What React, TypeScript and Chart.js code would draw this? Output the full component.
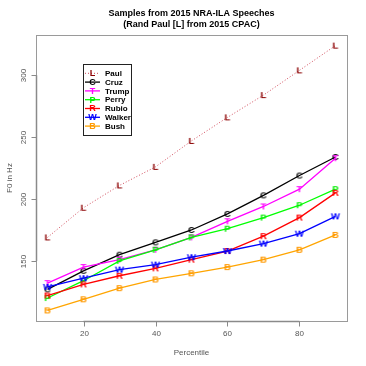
import React, { useEffect, useRef } from "react";
import { Chart, registerables } from "chart.js";

Chart.register(...registerables);

const percentiles = [10, 20, 30, 40, 50, 60, 70, 80, 90];
const paul = [169, 193, 211, 226, 247, 266, 284, 304, 324];
const cruz = [127, 142, 155, 165, 175, 188, 203, 219, 234];
const trump = [132, 145, 151, 159, 169, 182, 194, 208, 233];
const perry = [120, 134, 150, 159, 169, 176, 185, 195, 208];
const rubio = [122, 131, 138, 144, 151, 158, 170, 185, 205];
const walker = [129, 136, 143, 147, 153, 158, 164, 172, 186];
const bush = [110, 119, 128, 135, 140, 145, 151, 159, 171];

const seriesNames = ["Paul", "Cruz", "Trump", "Perry", "Rubio", "Walker", "Bush"];
const seriesLetters = ["L", "C", "T", "P", "R", "W", "B"];
const seriesValues = [paul, cruz, trump, perry, rubio, walker, bush];
const seriesColors = ["#8b0000", "#000000", "#ff00ff", "#00ee00", "#ff0000", "#0000ff", "#ff9900"];
const lineColors = ["#d04a5a", "#000000", "#ff00ff", "#00ff00", "#ff0000", "#0000ff", "#ffa500"];

const xTicks = [20, 40, 60, 80];
const yTicks = [150, 200, 250, 300];

const titleLines = ["Samples from 2015 NRA-ILA Speeches", "(Rand Paul [L] from 2015 CPAC)"];
const xLabel = "Percentile";
const yLabel = "F0 in Hz";

const FONT = "Arial, 'Liberation Sans', sans-serif";

function letterCanvas(letter: string, color: string) {
  const c = document.createElement("canvas");
  c.width = 12;
  c.height = 12;
  const ctx = c.getContext("2d")!;
  ctx.fillStyle = color;
  ctx.font = `bold 9.5px ${FONT}`;
  ctx.textAlign = "center";
  ctx.textBaseline = "middle";
  ctx.fillText(letter, 6, 6.5);
  return c;
}

const overlay = {
  id: "rOverlay",
  afterDraw(chart: any) {
    const ctx = chart.ctx;
    const area = chart.chartArea;
    const xs = chart.scales.x;
    const ys = chart.scales.y;
    ctx.save();
    // box
    ctx.strokeStyle = "#9a9a9a";
    ctx.lineWidth = 1;
    ctx.strokeRect(Math.round(area.left) + 0.5, Math.round(area.top) + 0.5, Math.round(area.right - area.left), Math.round(area.bottom - area.top));
    // y axis
    ctx.strokeStyle = "#8a8a8a";
    ctx.lineWidth = 1.5;
    const ax = Math.round(area.left) + 0.5;
    ctx.beginPath();
    ctx.moveTo(ax, ys.getPixelForValue(yTicks[0]));
    ctx.lineTo(ax, ys.getPixelForValue(yTicks[yTicks.length - 1]));
    ctx.stroke();
    ctx.lineWidth = 1;
    ctx.fillStyle = "#555";
    ctx.font = `8px ${FONT}`;
    for (const v of yTicks) {
      const y = Math.round(ys.getPixelForValue(v)) + 0.5;
      ctx.beginPath();
      ctx.moveTo(ax, y);
      ctx.lineTo(ax - 5, y);
      ctx.stroke();
      ctx.save();
      ctx.translate(24, y);
      ctx.rotate(-Math.PI / 2);
      ctx.textAlign = "center";
      ctx.textBaseline = "middle";
      ctx.fillText(String(v), 0, 0);
      ctx.restore();
    }
    // x axis
    const ay = Math.round(area.bottom) + 0.5;
    ctx.lineWidth = 1.5;
    ctx.beginPath();
    ctx.moveTo(xs.getPixelForValue(xTicks[0]), ay);
    ctx.lineTo(xs.getPixelForValue(xTicks[xTicks.length - 1]), ay);
    ctx.stroke();
    ctx.lineWidth = 1;
    for (const v of xTicks) {
      const x = Math.round(xs.getPixelForValue(v)) + 0.5;
      ctx.beginPath();
      ctx.moveTo(x, ay);
      ctx.lineTo(x, ay + 5);
      ctx.stroke();
      ctx.textAlign = "center";
      ctx.textBaseline = "middle";
      ctx.fillText(String(v), x, 334);
    }
    // axis titles
    ctx.fillText(xLabel, (area.left + area.right) / 2, 353);
    ctx.save();
    ctx.translate(10, (area.top + area.bottom) / 2);
    ctx.rotate(-Math.PI / 2);
    ctx.fillText(yLabel, 0, 0);
    ctx.restore();
    // title
    ctx.fillStyle = "#000";
    ctx.font = `bold 9px ${FONT}`;
    const cx = (area.left + area.right) / 2;
    ctx.fillText(titleLines[0], cx, 14);
    ctx.fillText(titleLines[1], cx, 25);
    // legend
    const lx = 83, ly = 64, lw = 48, lh = 71;
    ctx.fillStyle = "#fff";
    ctx.fillRect(lx, ly, lw, lh);
    ctx.strokeStyle = "#222";
    ctx.lineWidth = 1;
    ctx.strokeRect(lx + 0.5, ly + 0.5, lw, lh);
    for (let i = 0; i < seriesNames.length; i++) {
      const ry = 73.3 + i * 8.8;
      ctx.strokeStyle = lineColors[i];
      ctx.lineWidth = i === 0 ? 1 : 1.3;
      ctx.setLineDash(i === 0 ? [1, 2] : []);
      ctx.beginPath();
      ctx.moveTo(85, ry);
      ctx.lineTo(100, ry);
      ctx.stroke();
      ctx.setLineDash([]);
      ctx.fillStyle = seriesColors[i];
      ctx.font = `bold 9px ${FONT}`;
      ctx.textAlign = "center";
      ctx.fillText(seriesLetters[i], 92.5, ry + 0.5);
      ctx.fillStyle = "#000";
      ctx.font = `bold 8px ${FONT}`;
      ctx.textAlign = "left";
      ctx.fillText(seriesNames[i], 105, ry + 0.5);
    }
    ctx.restore();
  },
};

export default function App() {
  const ref = useRef<HTMLCanvasElement>(null);
  useEffect(() => {
    const all = seriesValues.flat();
    const ymin = Math.min(...all), ymax = Math.max(...all);
    const yr = ymax - ymin;
    const xmin = Math.min(...percentiles), xmax = Math.max(...percentiles);
    const xr = xmax - xmin;
    const datasets = seriesNames.map((name, i) => ({
      label: name,
      data: percentiles.map((p, j) => ({ x: p, y: seriesValues[i][j] })),
      borderColor: lineColors[i],
      borderWidth: i === 0 ? 1 : 1.3,
      borderDash: i === 0 ? [1, 2] : [],
      pointStyle: letterCanvas(seriesLetters[i], seriesColors[i]),
      pointRadius: 5,
      fill: false,
      tension: 0,
      order: seriesNames.length - i,
    }));
    const chart = new Chart(ref.current!, {
      type: "line",
      data: { datasets },
      plugins: [overlay],
      options: {
        animation: false,
        responsive: false,
        devicePixelRatio: 1,
        layout: { padding: { left: 0, top: 35, right: 19, bottom: 0 } },
        plugins: { legend: { display: false }, title: { display: false }, tooltip: { enabled: false } },
        scales: {
          x: {
            type: "linear",
            min: xmin - 0.04 * xr,
            max: xmax + 0.04 * xr,
            grid: { display: false },
            border: { display: false },
            ticks: { display: false },
            afterFit: (s: any) => { s.height = 45; },
          },
          y: {
            type: "linear",
            min: ymin - 0.04 * yr,
            max: ymax + 0.04 * yr,
            grid: { display: false },
            border: { display: false },
            ticks: { display: false },
            afterFit: (s: any) => { s.width = 36; },
          },
        },
      },
    });
    return () => chart.destroy();
  }, []);
  return (
    <div style={{ position: "fixed", left: 0, top: 0, width: 366, height: 366, background: "#fff" }}>
      <canvas ref={ref} width={366} height={366} style={{ width: 366, height: 366 }} />
    </div>
  );
}
